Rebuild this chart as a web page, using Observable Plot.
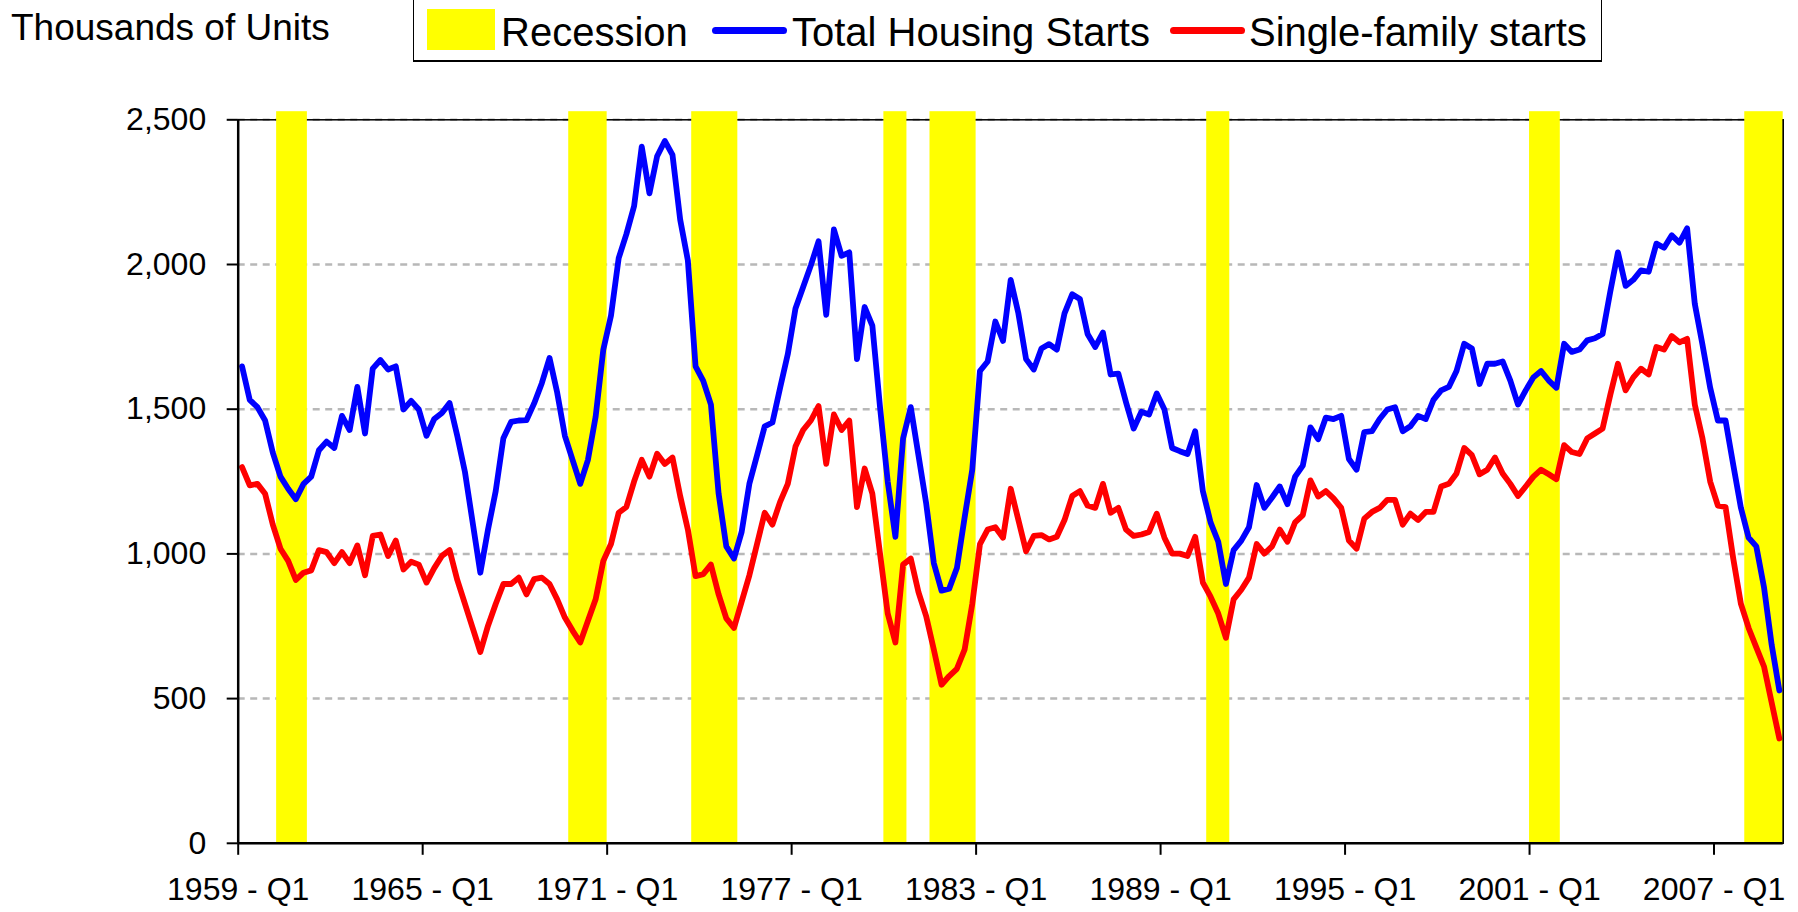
<!DOCTYPE html>
<html>
<head>
<meta charset="utf-8">
<script src="https://cdn.jsdelivr.net/npm/d3@7"></script>
<script src="https://cdn.jsdelivr.net/npm/@observablehq/plot@0.6"></script>
<style>
  html, body { margin: 0; padding: 0; background: #fff; }
  body { font-family: "Liberation Sans", Arial, sans-serif; color: #000; }
  #wrap { position: relative; width: 1798px; height: 912px; overflow: hidden; }
  #header { position: relative; width: 1798px; height: 100px; }
  .txt { position: absolute; white-space: nowrap; line-height: 1; }
  #title { left: 11px; top: 8.7px; font-size: 37px; }
  #legendBox { position: absolute; left: 413px; top: -3px; width: 1187.3px; height: 61.5px;
               border: 1.5px solid #000; border-bottom-width: 2.5px; background: #fff; }
  .sw { position: absolute; }
  .ltxt { font-size: 40px; top: 12px; }
  #chart { position: relative; }
</style>
</head>
<body>
<div id="wrap">
  <div id="header">
    <div id="title" class="txt"></div>
    <div id="legendBox"></div>
    <div id="legendItems"></div>
  </div>
  <div id="chart"></div>
</div>
<script>
// ---- Data (thousands of units, SAAR, quarterly from 1959 - Q1) ----
const startYear = 1959;

const totalStarts = [
  1648,1532,1507,1461,1350,1267,1225,1189,1242,1267,
  1358,1388,1366,1477,1428,1577,1416,1640,1670,1637,
  1648,1499,1529,1499,1408,1466,1487,1521,1408,1283,
  1109,935,1084,1217,1400,1456,1461,1462,1520,1590,
  1677,1557,1408,1325,1242,1325,1474,1706,1823,2022,
  2105,2201,2407,2246,2374,2427,2379,2155,2014,1648,
  1598,1516,1208,1026,984,1076,1242,1341,1441,1454,
  1574,1690,1848,1922,1997,2080,1826,2121,2030,2042,
  1673,1853,1789,1507,1250,1059,1399,1507,1341,1175,
  968,873,880,951,1125,1291,1632,1665,1803,1736,
  1947,1831,1673,1637,1710,1725,1706,1831,1897,1881,
  1760,1715,1765,1620,1623,1524,1433,1491,1482,1554,
  1499,1366,1355,1345,1424,1217,1109,1042,896,1013,
  1046,1092,1238,1159,1195,1233,1172,1267,1305,1437,
  1396,1471,1466,1477,1328,1291,1421,1424,1466,1499,
  1507,1424,1441,1477,1466,1532,1565,1577,1632,1726,
  1710,1587,1657,1657,1665,1599,1516,1565,1610,1632,
  1599,1574,1726,1698,1706,1738,1745,1760,1906,2042,
  1926,1947,1980,1975,2072,2058,2101,2075,2125,1864,
  1723,1574,1461,1461,1308,1159,1056,1026,885,686,
  528
];

const singleFamily = [
  1300,1237,1242,1208,1101,1018,976,910,935,943,
  1013,1006,968,1006,968,1029,926,1062,1067,993,
  1046,946,973,963,901,951,993,1013,910,827,
  744,661,752,827,896,896,918,860,913,918,
  896,843,780,735,694,769,843,976,1034,1142,
  1162,1250,1325,1267,1346,1311,1333,1200,1084,923,
  930,963,860,777,744,835,926,1034,1142,1101,
  1180,1242,1371,1428,1461,1511,1311,1482,1428,1461,
  1162,1295,1208,1001,794,694,963,984,868,785,
  669,548,578,603,669,827,1034,1084,1092,1056,
  1225,1117,1009,1062,1065,1050,1059,1117,1200,1217,
  1167,1159,1242,1142,1159,1084,1062,1067,1076,1139,
  1056,1001,1001,993,1059,901,852,794,710,843,
  876,918,1034,1001,1026,1084,1042,1109,1134,1254,
  1198,1217,1192,1159,1046,1018,1122,1145,1159,1187,
  1187,1101,1139,1117,1145,1145,1233,1242,1278,1366,
  1341,1275,1291,1333,1278,1242,1200,1233,1267,1291,
  1275,1258,1376,1352,1345,1399,1416,1433,1549,1657,
  1565,1610,1640,1620,1715,1706,1753,1731,1743,1516,
  1399,1250,1167,1162,984,827,744,677,611,486,
  362
];

// Recession periods (first and last quarter shaded)
const recessionStart = ["1960 - Q2","1969 - Q4","1973 - Q4","1980 - Q1","1981 - Q3","1990 - Q3","2001 - Q1","2008 - Q1"];
const recessionEnd   = ["1961 - Q1","1970 - Q4","1975 - Q1","1980 - Q3","1982 - Q4","1991 - Q1","2001 - Q4","2009 - Q1"];
const recessionValue = 2528;

const tickLabels = ["1959 - Q1","1965 - Q1","1971 - Q1","1977 - Q1","1983 - Q1","1989 - Q1","1995 - Q1","2001 - Q1","2007 - Q1"];
const yTicks = [0, 500, 1000, 1500, 2000, 2500];
const gridValues = [500, 1000, 1500, 2000, 2500];

const titleText = "Thousands of Units";
const legendLabels = ["Recession", "Total Housing Starts", "Single-family starts"];
const colors = { recession: "#ffff00", total: "#0000ff", single: "#ff0000" };

// ---- Build ----
const n = totalStarts.length;
const quarters = d3.range(n).map(i => `${startYear + Math.floor(i / 4)} - Q${(i % 4) + 1}`);
const idx = new Map(quarters.map((q, i) => [q, i]));
const data = quarters.map((q, i) => ({ i, q, total: totalStarts[i], single: singleFamily[i] }));
const rec = recessionStart.map((s, k) => ({ x1: idx.get(s) - 0.5, x2: idx.get(recessionEnd[k]) + 0.5, top: recessionValue }));
const tickPos = tickLabels.map(t => idx.get(t) - 0.5);
const tickMap = new Map(tickPos.map((p, k) => [p, tickLabels[k]]));

document.getElementById("title").textContent = titleText;

// Legend
const items = document.getElementById("legendItems");
function add(el) { items.appendChild(el); return el; }
function box(left, top, w, h, bg, radius) {
  const d = document.createElement("div");
  d.className = "sw";
  Object.assign(d.style, { left: left + "px", top: top + "px", width: w + "px", height: h + "px", background: bg, borderRadius: (radius || 0) + "px" });
  return add(d);
}
function label(left, text) {
  const d = document.createElement("div");
  d.className = "txt ltxt";
  d.style.left = left + "px";
  d.textContent = text;
  return add(d);
}
box(426.6, 9.2, 68.8, 41.3, colors.recession);
label(501, legendLabels[0]);
box(712.3, 27.3, 75, 7, colors.total, 3.5);
label(792, legendLabels[1]);
box(1170, 27.3, 75, 7, colors.single, 3.5);
label(1249, legendLabels[2]);

const chart = Plot.plot({
  width: 1798,
  height: 812,
  marginLeft: 237.7,
  marginRight: 15.3,
  marginTop: 19.3,
  marginBottom: 69.2,
  style: { fontFamily: "'Liberation Sans', Arial, sans-serif", fontSize: "32px", color: "#000", background: "#fff", overflow: "visible" },
  x: { type: "linear", domain: [-0.5, n - 0.5] },
  y: { domain: [0, 2500] },
  marks: [
    Plot.ruleY(gridValues, { stroke: "#b8b8b8", strokeWidth: 2.5, strokeDasharray: "7,5.5" }),
    Plot.frame({ stroke: "#000", strokeWidth: 1.5 }),
    Plot.rect(rec, { x1: "x1", x2: "x2", y1: 0, y2: "top", fill: colors.recession }),
    Plot.lineY(data, { x: "i", y: "total", stroke: colors.total, strokeWidth: 5.8, strokeLinejoin: "round", strokeLinecap: "round" }),
    Plot.lineY(data, { x: "i", y: "single", stroke: colors.single, strokeWidth: 5.8, strokeLinejoin: "round", strokeLinecap: "round" }),
    Plot.ruleY([0], { stroke: "#000", strokeWidth: 2.5 }),
    Plot.ruleX([-0.5], { stroke: "#000", strokeWidth: 2.5 }),
    Plot.ruleX([n - 0.5], { stroke: "#000", strokeWidth: 1.5 }),
    Plot.axisY({ ticks: yTicks, tickFormat: d3.format(","), tickSize: 11, tickPadding: 21, strokeWidth: 2, fontSize: 32, label: null }),
    Plot.axisX({ ticks: tickPos, tickFormat: d => tickMap.get(d), tickSize: 12, tickPadding: 22, strokeWidth: 2, fontSize: 32, label: null })
  ]
});
document.getElementById("chart").appendChild(chart);
</script>
</body>
</html>
